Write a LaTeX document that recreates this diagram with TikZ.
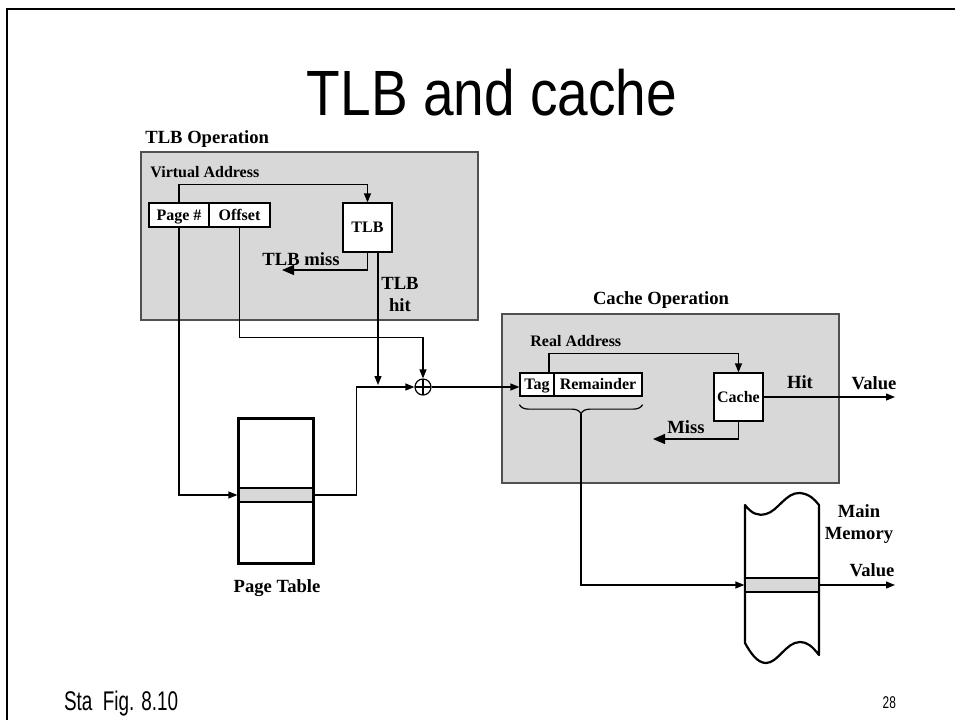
\documentclass[tikz,border=0pt]{standalone}
\usepackage{fontspec}
\setmainfont{Liberation Serif}
\newfontfamily\slidefont[FakeStretch=0.86]{Liberation Sans}
\newfontfamily\notefont[FakeStretch=0.7]{Liberation Sans}
\usetikzlibrary{arrows.meta,positioning,decorations.pathreplacing,calc}
\definecolor{panel}{RGB}{216,216,216}
\definecolor{rim}{RGB}{80,80,80}

\tikzset{
  lbl/.style={font=\fontsize{9.3}{11}\selectfont\bfseries,inner sep=0pt},
  sml/.style={font=\fontsize{8}{9}\selectfont\bfseries,inner sep=0pt},
  panelbox/.style={draw=rim,fill=panel,line width=0.8pt,inner sep=0pt},
  cell/.style={draw,fill=white,line width=0.6pt,minimum height=12pt,inner sep=0pt,
    text height=1.45ex,text depth=0.3ex,sml},
  wire/.style={line width=0.6pt,-{Triangle[length=4.5pt,width=3.5pt]}},
  bigwire/.style={line width=0.6pt,-{Triangle[length=6pt,width=5pt]}},
}

\begin{document}
\begin{tikzpicture}[x=0.5pt,y=-0.5pt]
  \useasboundingbox (0,0) rectangle (955,720);
  \draw[line width=1pt] (955,9) -- (7,9) -- (7,720);
  \node[font=\slidefont\fontsize{32}{34}\selectfont,anchor=base] (title) at (492,115) {TLB and cache};

  % TLB operation
  \node[panelbox,minimum width=168.5pt,minimum height=84pt,anchor=north west] (tlbop) at (140,151) {};
  \node[lbl,anchor=base west] (tlbhead) at (145,143) {TLB Operation};
  \node[sml,anchor=base west] (vaddr) at (150,177) {Virtual Address};
  \node[cell,minimum width=30pt] (pagenum) at (179,215) {Page \#};
  \node[cell,minimum width=30.5pt] (offset) at (239.5,215) {Offset};
  \node[cell,minimum width=24.5pt,minimum height=24.5pt] (tlb) at (367.5,227.5) {TLB};
  \coordinate (tlbmissend) at (282,270);
  \coordinate (hitdrop) at (378,385);
  \draw[wire] (pagenum.north) -- ++(0,-18) -| (tlb.north);
  \draw[bigwire] (tlb.south) |- (tlbmissend);
  \draw[wire] (tlb.south -| hitdrop) -- (hitdrop);
  \node[lbl] (tlbmiss) at (301,259) {TLB miss};
  \node[lbl,align=center] (tlbhit) at (400,294) {TLB\\hit};

  % page table
  \node[draw,fill=panel,line width=0.6pt,minimum width=37.5pt,minimum height=7pt,inner sep=0pt] (ptrow) at (275.5,495) {};
  \node[draw,line width=1.5pt,minimum width=37.5pt,minimum height=72.5pt,inner sep=0pt] (ptable) at (275.5,490.5) {};
  \node[lbl] (ptlabel) at (277,588) {Page Table};

  % adder
  \node[draw,circle,line width=0.6pt,minimum size=8pt,inner sep=0pt,
    path picture={\draw[line width=0.6pt] (path picture bounding box.north) -- (path picture bounding box.south)
      (path picture bounding box.west) -- (path picture bounding box.east);}] (adder) at (423,387) {};
  \draw[wire] (pagenum.south) |- (ptrow.west);
  \draw[wire] (offset.south) -- ++(0,110) -| (adder.north);
  \draw[wire] (ptrow.east) -- ++(43,0) |- (adder.west);

  % cache operation
  \node[panelbox,minimum width=168.5pt,minimum height=84.5pt,anchor=north west] (cacheop) at (501,313) {};
  \node[lbl] (cachehead) at (661,300) {Cache Operation};
  \node[sml,anchor=base west] (raddr) at (530,346) {Real Address};
  \node[cell,minimum width=17pt,minimum height=11.5pt] (tag) at (537,384.5) {Tag};
  \node[cell,minimum width=44pt,minimum height=11.5pt] (remainder) at (598,384.5) {Remainder};
  \node[cell,minimum width=24.5pt,minimum height=24pt] (cache) at (738.5,397) {Cache};
  \draw[wire] (adder.east) -- (adder.east -| tag.west);
  \draw[wire] ([xshift=6pt]tag.north) -- ++(0,-19) -| (cache.north);
  \coordinate (hitend) at (895,397);
  \coordinate (missend) at (653,439);
  \draw[wire] (cache.east) -- (hitend);
  \draw[bigwire] (cache.south) |- (missend);
  \node[lbl] (hit) at (800,382) {Hit};
  \node[lbl] (hitval) at (874,383) {Value};
  \node[lbl] (miss) at (686,427) {Miss};
  \draw[line width=0.6pt,decorate,decoration={brace,amplitude=4.5pt}] ([yshift=-4pt]remainder.south east) -- ([yshift=-4pt]tag.south west);
  \coordinate (bracetip) at (581,414);

  % main memory
  \draw[line width=1.1pt,line join=round,fill=white] (745,505) .. controls (752,514) and (758,516) .. (766,514)
    .. controls (778,511) and (786,492) .. (800,493) .. controls (810,494) and (815,500) .. (819,505) -- (819,655)
    .. controls (812,646) and (807,642) .. (800,642) .. controls (786,642) and (778,663) .. (766,663)
    .. controls (757,663) and (750,652) .. (745,643) -- cycle;
  \node[draw,fill=panel,line width=0.6pt,minimum width=37pt,minimum height=7pt,inner sep=0pt] (memrow) at (782,585) {};
  \node[lbl,align=center] (mainmem) at (859,524) {Main\\Memory};
  \node[lbl] (memval) at (872,570) {Value};
  \coordinate (memout) at (895,585);
  \draw[wire] (bracetip) |- (memrow.west);
  \draw[wire] (memrow.east) -- (memout);

  \node[font=\notefont\fontsize{13.5}{16}\selectfont,anchor=base west] (figref) at (57,710) {Sta\ \ Fig. 8.10};
  \node[font=\notefont\fontsize{8.5}{9}\selectfont,anchor=base east] (pagenr) at (903,708) {28};
\end{tikzpicture}
\end{document}
